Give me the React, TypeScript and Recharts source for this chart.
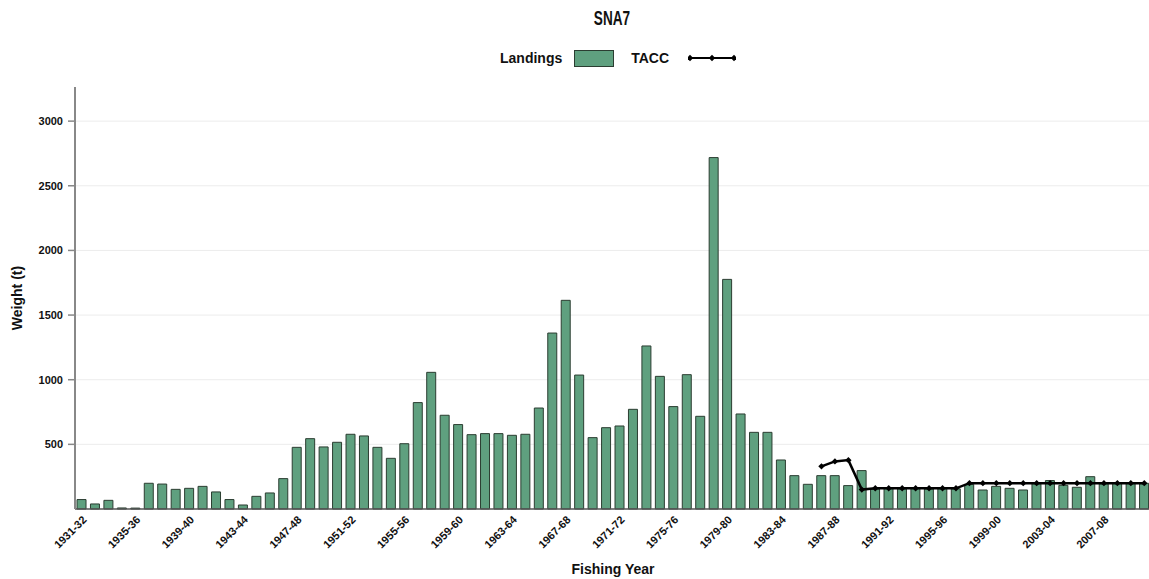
import React from 'react';
import {
  BarChart,
  Bar,
  Line,
  XAxis,
  YAxis,
  CartesianGrid,
  Legend,
} from 'recharts';

const years = [
  '1931-32', '1932-33', '1933-34', '1934-35', '1935-36', '1936-37', '1937-38', '1938-39',
  '1939-40', '1940-41', '1941-42', '1942-43', '1943-44', '1944-45', '1945-46', '1946-47',
  '1947-48', '1948-49', '1949-50', '1950-51', '1951-52', '1952-53', '1953-54', '1954-55',
  '1955-56', '1956-57', '1957-58', '1958-59', '1959-60', '1960-61', '1961-62', '1962-63',
  '1963-64', '1964-65', '1965-66', '1966-67', '1967-68', '1968-69', '1969-70', '1970-71',
  '1971-72', '1972-73', '1973-74', '1974-75', '1975-76', '1976-77', '1977-78', '1978-79',
  '1979-80', '1980-81', '1981-82', '1982-83', '1983-84', '1984-85', '1985-86', '1986-87',
  '1987-88', '1988-89', '1989-90', '1990-91', '1991-92', '1992-93', '1993-94', '1994-95',
  '1995-96', '1996-97', '1997-98', '1998-99', '1999-00', '2000-01', '2001-02', '2002-03',
  '2003-04', '2004-05', '2005-06', '2006-07', '2007-08', '2008-09', '2009-10', '2010-11',
];

const landings = [
  73, 39, 67, 8, 7, 199, 193, 152,
  160, 175, 132, 73, 31, 98, 124, 235,
  477, 544, 480, 516, 578, 565, 477, 392,
  505, 823, 1057, 725, 653, 575, 583, 583,
  570, 578, 781, 1361, 1614, 1036, 552, 629,
  642, 771, 1261, 1026, 792, 1039, 717, 2718,
  1776, 735, 593, 593, 379, 258, 191, 258,
  258, 181, 297, 155, 158, 156, 158, 155,
  157, 156, 190, 147, 175, 160, 147, 196,
  220, 183, 168, 250, 196, 199, 199, 199,
];

const tacc: (number | null)[] = [
  null, null, null, null, null, null, null, null,
  null, null, null, null, null, null, null, null,
  null, null, null, null, null, null, null, null,
  null, null, null, null, null, null, null, null,
  null, null, null, null, null, null, null, null,
  null, null, null, null, null, null, null, null,
  null, null, null, null, null, null, null, 330,
  368, 378, 150, 160, 160, 160, 160, 160,
  160, 160, 200, 200, 200, 200, 200, 200,
  200, 200, 200, 200, 200, 200, 200, 200,
];

const yTicks = [500, 1000, 1500, 2000, 2500, 3000];

const FONT = '"Liberation Sans", Arial, sans-serif';
const BAR_FILL = '#5fa07f';
const BAR_STROKE = '#2b3d31';

const data = years.map((y, i) => ({ year: y, landings: landings[i], tacc: tacc[i] }));

function Diamond(props: any) {
  const { cx, cy, index } = props;
  if (cx == null || cy == null || props.value == null) return <g key={index} />;
  const r = 3.2;
  return (
    <path
      key={index}
      d={`M${cx},${cy - r}L${cx + r},${cy}L${cx},${cy + r}L${cx - r},${cy}Z`}
      fill="#000"
    />
  );
}

function LegendContent() {
  return (
    <div
      style={{
        display: 'flex',
        alignItems: 'center',
        height: 20,
        fontFamily: FONT,
        fontWeight: 'bold',
        fontSize: 14,
        color: '#111',
      }}
    >
      <span>Landings</span>
      <span
        style={{
          display: 'inline-block',
          width: 38,
          height: 15,
          background: BAR_FILL,
          border: `1px solid ${BAR_STROKE}`,
          marginLeft: 12,
          marginRight: 17,
        }}
      />
      <span>TACC</span>
      <svg width={48} height={10} style={{ marginLeft: 19 }}>
        <line x1={1} y1={5} x2={47} y2={5} stroke="#000" strokeWidth={2} />
        {[2, 24, 46].map((x) => (
          <path key={x} d={`M${x},${1.8}L${x + 3.2},5L${x},${8.2}L${x - 3.2},5Z`} fill="#000" />
        ))}
      </svg>
    </div>
  );
}

export default function App() {
  return (
    <div
      style={{
        position: 'absolute',
        left: 0,
        top: 0,
        width: 1149,
        height: 579,
        overflow: 'hidden',
        background: '#fff',
        fontFamily: FONT,
      }}
    >
      <div
        style={{
          position: 'absolute',
          left: 512,
          top: 7,
          width: 200,
          textAlign: 'center',
          fontSize: 20,
          lineHeight: '22px',
          fontWeight: 'bold',
          color: '#111',
          transform: 'scaleX(0.68)',
        }}
      >
        SNA7
      </div>
      <BarChart
        width={1152}
        height={579}
        data={data}
        margin={{ top: 67, right: 1, left: 15, bottom: 0 }}
        barCategoryGap="15%"
      >
        <CartesianGrid vertical={false} stroke="#ececec" horizontalValues={yTicks} />
        <Legend
          verticalAlign="top"
          content={<LegendContent />}
          wrapperStyle={{ top: 48, left: 500, width: 260 }}
        />
        <XAxis
          dataKey="year"
          interval={3}
          tickLine={false}
          axisLine={{ stroke: '#555', strokeWidth: 1.5 }}
          angle={-45}
          textAnchor="end"
          tickSize={2}
          tickMargin={4}
          height={70}
          tick={{ fontSize: 11, fontWeight: 'bold', fill: '#111', fontFamily: FONT }}
          label={{
            value: 'Fishing Year',
            position: 'insideBottom',
            offset: 5,
            fontSize: 14,
            fontWeight: 'bold',
            fill: '#111',
            fontFamily: FONT,
          }}
        />
        <YAxis
          width={60}
          domain={[0, 3264]}
          ticks={yTicks}
          tickSize={7}
          tickMargin={5}
          axisLine={{ stroke: '#888', strokeWidth: 2 }}
          tickLine={{ stroke: '#888', strokeWidth: 1.5 }}
          tick={{ fontSize: 11, fontWeight: 'bold', fill: '#111', fontFamily: FONT }}
          label={{
            value: 'Weight (t)',
            angle: -90,
            position: 'insideLeft',
            offset: 2,
            fontSize: 14,
            fontWeight: 'bold',
            fill: '#111',
            fontFamily: FONT,
            style: { textAnchor: 'middle' },
          }}
        />
        <Bar
          dataKey="landings"
          name="Landings"
          fill={BAR_FILL}
          stroke={BAR_STROKE}
          strokeWidth={1}
          isAnimationActive={false}
        />
        <Line
          type="linear"
          dataKey="tacc"
          name="TACC"
          stroke="#000"
          strokeWidth={2.5}
          dot={<Diamond />}
          activeDot={false}
          isAnimationActive={false}
        />
      </BarChart>
    </div>
  );
}
